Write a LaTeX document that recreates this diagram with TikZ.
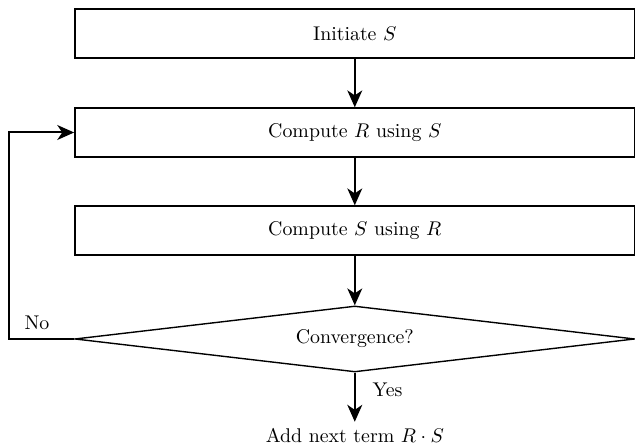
\documentclass[tikz,border=0pt]{standalone}
\usetikzlibrary{shapes.geometric,arrows.meta}
\tikzset{
  box/.style={draw,line width=0.7pt,minimum width=9.91cm,minimum height=0.867cm,inner sep=0pt},
  test/.style={draw,diamond,line width=0.7pt,minimum width=9.91cm,minimum height=1.168cm,inner sep=0pt,aspect=8.5},
  flow/.style={-{Stealth[length=8.5pt,width=7.5pt,inset=2.5pt]},line width=1pt}
}
\begin{document}
\begin{tikzpicture}
\useasboundingbox (0,0) rectangle (11.24,-7.894);
\node[box] (init) at (6.28,-0.593) {Initiate $S$};
\node[box] (compR) at (6.28,-2.345) {Compute $R$ using $S$};
\node[box] (compS) at (6.28,-4.08) {Compute $S$ using $R$};
\node[test] (conv) at (6.28,-6.0) {Convergence?};
\node (add) at (6.28,-7.717) {Add next term $R\cdot S$};
\draw[flow] (init)--(compR);
\draw[flow] (compR)--(compS);
\draw[flow] (compS)--(conv);
\draw[flow] (conv.south)--(add) node[pos=0.35,right,xshift=0.18cm]{Yes};
\draw[flow] (conv.west)--++(-1.15,0)coordinate (L)|-(compR.west);
\node (no) at (0.655,-5.717) {No};
\end{tikzpicture}
\end{document}
